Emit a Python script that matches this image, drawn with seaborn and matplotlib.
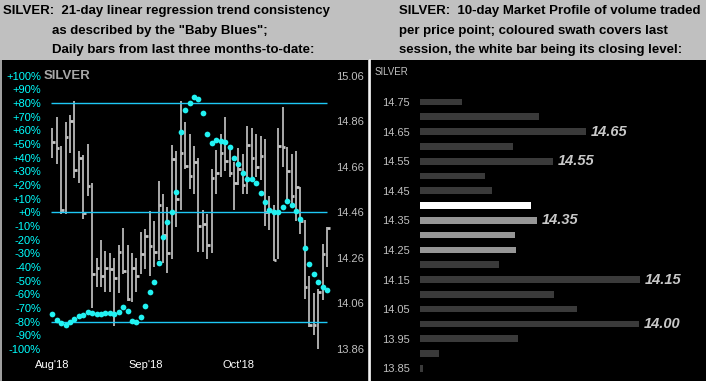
import matplotlib
matplotlib.use("Agg")
import matplotlib.pyplot as plt
import matplotlib.transforms as mtransforms
from matplotlib.patches import Rectangle
from matplotlib.lines import Line2D
import pandas as pd
import seaborn as sns

W, H = 706, 381

# Barras diárias (preço): máxima, mínima, fechamento
highs = [14.83, 14.88, 14.75, 14.855, 14.885, 14.95, 14.73, 14.71, 14.76, 14.59,
         14.26, 14.34, 14.29, 14.28, 14.26, 14.315, 14.39, 14.315, 14.28, 14.26,
         14.375, 14.385, 14.465, 14.42, 14.595, 14.54, 14.485, 14.755, 14.73, 14.95,
         14.855, 14.805, 14.75, 14.70, 14.47, 14.45, 14.65, 14.735, 14.805, 14.88,
         14.755, 14.68, 14.74, 14.715, 14.84, 14.83, 14.805, 14.795, 14.78, 14.53,
         14.49, 14.83, 14.92, 14.745, 14.715, 14.73, 14.57, 14.425, 14.18, 14.105,
         14.125, 14.32, 14.395]
lows = [14.70, 14.67, 14.45, 14.45, 14.72, 14.61, 14.59, 14.43, 14.53, 14.04,
        14.13, 14.13, 14.11, 14.11, 13.96, 14.105, 14.19, 14.07, 14.065, 14.11,
        14.19, 14.21, 14.18, 14.22, 14.25, 14.235, 14.195, 14.255, 14.395, 14.47,
        14.65, 14.56, 14.54, 14.285, 14.285, 14.255, 14.28, 14.54, 14.615, 14.64,
        14.615, 14.47, 14.58, 14.54, 14.54, 14.615, 14.615, 14.60, 14.40, 14.38,
        14.245, 14.255, 14.66, 14.505, 14.50, 14.42, 14.365, 14.08, 13.955, 13.92,
        13.86, 14.075, 14.22]
closes = [14.77, 14.74, 14.47, 14.79, 14.86, 14.645, 14.70, 14.457, 14.575, 14.19,
          14.215, 14.18, 14.215, 14.21, 14.17, 14.285, 14.20, 14.08, 14.215, 14.18,
          14.275, 14.355, 14.31, 14.285, 14.49, 14.36, 14.28, 14.695, 14.52, 14.72,
          14.665, 14.62, 14.68, 14.40, 14.41, 14.315, 14.61, 14.63, 14.72, 14.685,
          14.63, 14.59, 14.65, 14.58, 14.757, 14.70, 14.66, 14.705, 14.46, 14.47,
          14.25, 14.75, 14.745, 14.64, 14.53, 14.57, 14.42, 14.13, 13.965, 13.965,
          14.11, 14.275, 14.39]

# "Baby Blues" (consistência da tendência, %)
baby_blues = [-74.5, -78.9, -80.8, -82.5, -80.3, -77.9, -75.7, -75.0, -72.8, -73.5,
              -74.2, -74.2, -73.5, -73.5, -74.2, -72.8, -69.3, -72.1, -79.4, -80.1,
              -76.4, -68.4, -58.2, -50.8, -36.9, -18.4, -6.9, 0.4, 15.0, 58.9,
              75.0, 80.1, 84.5, 83.0, 72.8, 57.4, 50.8, 53.0, 52.3, 51.6,
              47.9, 39.9, 35.5, 28.9, 24.5, 24.5, 21.6, 14.3, 7.7, 1.6,
              0.4, 0.4, 4.0, 8.4, 5.5, 1.1, -4.8, -26.0, -37.7, -45.0,
              -50.8, -54.5, -56.7]

month_labels = ["Aug'18", "Sep'18", "Oct'18"]
month_pos = [0, 21, 42]
pct_ticks = list(range(100, -101, -10))
ref_levels = [80, 0, -80]
price_ticks = [15.06, 14.86, 14.66, 14.46, 14.26, 14.06, 13.86]

# Market profile (10 dias)
profile_prices = ["14.75", "14.70", "14.65", "14.60", "14.55", "14.50", "14.45",
                  "14.40", "14.35", "14.30", "14.25", "14.20", "14.15", "14.10",
                  "14.05", "14.00", "13.95", "13.90", "13.85"]
profile_volume = [42, 119, 166, 93, 133, 65, 72, 111, 117, 95, 96, 79, 220, 134,
                  157, 219, 98, 19, 3]
profile_kind = ["past"] * 7 + ["close", "last", "last", "last"] + ["past"] * 8
profile_marked = ["14.65", "14.55", "14.35", "14.15", "14.00"]

sns.set_theme(style="dark", rc={"axes.facecolor": "black"})
plt.rcParams["font.family"] = ["Liberation Sans", "DejaVu Sans"]


def px_box(x0, y0, x1, y1):
    return [x0 / W, 1 - y1 / H, (x1 - x0) / W, (y1 - y0) / H]


fig = plt.figure(figsize=(W / 100, H / 100), dpi=100, facecolor="#c0c0c0")
fig.add_artist(Rectangle((0, 0), 368 / W, 321 / H, transform=fig.transFigure,
                         facecolor="black", edgecolor="none", zorder=0))
fig.add_artist(Rectangle((370 / W, 0), 336 / W, 321 / H, transform=fig.transFigure,
                         facecolor="black", edgecolor="none", zorder=0))
fig.add_artist(Line2D([369.5 / W] * 2, [0, 321 / H], color="white", lw=1.2))
fig.add_artist(Line2D([1 / W] * 2, [0, 321 / H], color="#c0c0c0", lw=1.2))

# Cabeçalhos
hdr = dict(fontsize=9.5, fontweight="bold", color="black", va="center")
fig.text(3 / W, 1 - 11 / H, "SILVER:  21-day linear regression trend consistency", **hdr)
fig.text(52 / W, 1 - 31 / H, 'as described by the "Baby Blues";', **hdr)
fig.text(52 / W, 1 - 50 / H, "Daily bars from last three months-to-date:", **hdr)
fig.text(399 / W, 1 - 11 / H, "SILVER:  10-day Market Profile of volume traded", **hdr)
fig.text(399 / W, 1 - 31 / H, "per price point; coloured swath covers last", **hdr)
fig.text(399 / W, 1 - 50 / H, "session, the white bar being its closing level:", **hdr)

# Painel esquerdo
x0px, step = 52.3, 4.43
ax = fig.add_axes(px_box(44, 62, 334, 356))
ax.set_xlim((44 - x0px) / step, (334 - x0px) / step)
pct_lo, pct_hi = -105.2, 109.9
ax.set_ylim(pct_lo, pct_hi)
ax2 = ax.twinx()
ax2.set_ylim(14.46 + 0.006 * pct_lo, 14.46 + 0.006 * pct_hi)

idx = list(range(len(closes)))
ax2.vlines(idx, lows, highs, color="#c8c8c8", lw=1.2)
ax2.hlines(closes, idx, [i + 0.6 for i in idx], color="#c8c8c8", lw=2.0)

ax.hlines(ref_levels, -0.4, 61.9, color="#1ec8f5", lw=1.0)
sns.scatterplot(x=idx, y=baby_blues, ax=ax, color="#22f2f2", s=17,
                linewidth=0, zorder=5)
ax.set_zorder(ax2.get_zorder() + 1)
ax.patch.set_visible(False)
ax2.patch.set_visible(False)

ax.set_yticks(pct_ticks, [f"{v:+d}%" for v in pct_ticks])
ax.tick_params(axis="y", labelcolor="#00ffff", labelsize=8, length=0, pad=2.2)
ax.set_xticks(month_pos, month_labels)
ax.tick_params(axis="x", labelcolor="white", labelsize=8, length=0, pad=3)
ax2.set_yticks(price_ticks, [f"{p:.2f}" for p in price_ticks])
ax2.tick_params(axis="y", labelcolor="#c0c0c0", labelsize=8, length=0, pad=1.2)
ax.grid(False)
ax2.grid(False)
for a in (ax, ax2):
    for s in a.spines.values():
        s.set_visible(False)
ax.text(0.0, 100, "SILVER", transform=mtransforms.blended_transform_factory(ax.transAxes, ax.transData),
        ha="left", va="center", fontsize=9.5, fontweight="bold", color="#a8a8a8")

# Painel direito
df = pd.DataFrame({"price": profile_prices, "volume": profile_volume, "kind": profile_kind})
ax3 = fig.add_axes(px_box(420, 94.6, 700, 375.7))
sns.barplot(data=df, x="volume", y="price", hue="kind", order=profile_prices,
            palette={"past": "#3a3a3a", "last": "#969696", "close": "#ffffff"},
            orient="h", width=0.45, dodge=False, errorbar=None, legend=False,
            saturation=1, linewidth=0, edgecolor="none", ax=ax3)
ax3.set_xlim(0, 280)
ax3.set_ylim(len(profile_prices) - 0.5, -0.5)
ax3.patch.set_visible(False)
ax3.grid(False)
ax3.set_xticks([])
ax3.set_yticks(range(0, len(profile_prices), 2), profile_prices[::2])
ax3.tick_params(axis="y", labelcolor="#c0c0c0", labelsize=8, length=0, pad=7.2)
ax3.set_xlabel("")
ax3.set_ylabel("")
for s in ax3.spines.values():
    s.set_visible(False)
for lbl in profile_marked:
    r = profile_prices.index(lbl)
    ax3.annotate(lbl, (profile_volume[r], r), xytext=(3.6, 0), textcoords="offset points",
                 ha="left", va="center", fontsize=10.5, fontweight="bold",
                 fontstyle="italic", color="#c8c8c8")
fig.text(375 / W, 1 - 72.3 / H, "SILVER", fontsize=7, color="#c0c0c0", va="center")

fig.savefig("out.png", dpi=100, facecolor=fig.get_facecolor())
